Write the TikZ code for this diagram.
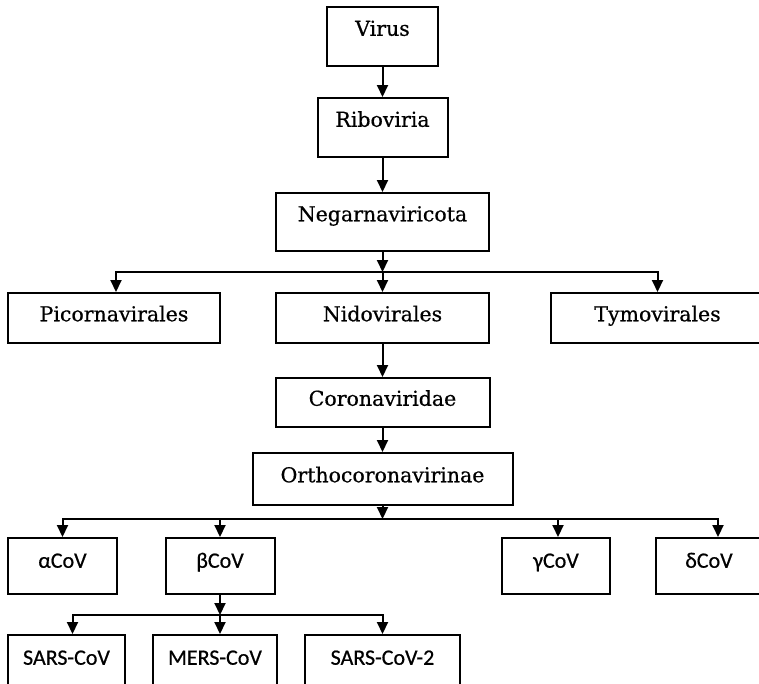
\documentclass[tikz,border=0pt]{standalone}
\usepackage{fontspec}
\usetikzlibrary{arrows.meta}
\newfontfamily\boxserif{DejaVu Serif}[FakeBold=0.6]
\newfontfamily\boxsans{Carlito}[FakeBold=0.6]
\tikzset{
  x=1pt, y=-1pt,
  bx/.style={draw=black, line width=2pt, inner sep=0pt, fill=white, text=black},
  serifbox/.style={bx, font=\boxserif\fontsize{20.5}{24}\selectfont},
  sansbox/.style={bx, font=\boxsans\fontsize{22}{25}\selectfont},
  up8/.style={text height=8.5pt, text depth=10pt},
  up4/.style={text height=16.5pt, text depth=10pt},
  upsans/.style={text height=13.5pt, text depth=10pt},
  upbot/.style={text height=9.5pt, text depth=10pt},
  arr/.style={line width=2pt, -{Triangle[width=11pt,length=12pt]}},
}
\begin{document}
\begin{tikzpicture}
\clip (0,0) rectangle (759,683);
\fill[white] (0,0) rectangle (759,683);
% top column
\node[serifbox, up8, minimum width=111pt, minimum height=59pt] (vir) at (382.5,36.5) {Virus};
\node[serifbox, up8, minimum width=130pt, minimum height=59pt] (rib) at (382.5,127.5) {Riboviria};
\node[serifbox, up8, minimum width=213pt, minimum height=58pt] (neg) at (382.5,222) {Negarnaviricota};
% orders
\node[serifbox, up4, minimum width=212pt, minimum height=50pt] (pic) at (114,318) {Picornavirales};
\node[serifbox, up4, minimum width=213pt, minimum height=50pt] (nid) at (382.5,318) {Nidovirales};
\node[serifbox, up4, minimum width=214pt, minimum height=50pt] (tym) at (657.5,318) {Tymovirales};
% family, subfamily
\node[serifbox, up4, minimum width=214pt, minimum height=49pt] (cor) at (382.5,402.5) {Coronaviridae};
\node[serifbox, up4, minimum width=260pt, minimum height=52pt] (ort) at (382.5,479) {Orthocoronavirinae};
% genera
\node[sansbox, upsans, minimum width=109pt, minimum height=56pt] (alp) at (62.5,566) {αCoV};
\node[sansbox, upsans, minimum width=109pt, minimum height=56pt] (bet) at (220,566) {βCoV};
\node[sansbox, upsans, minimum width=108pt, minimum height=56pt] (gam) at (556,566) {γCoV};
\node[sansbox, upsans, minimum width=106pt, minimum height=56pt] (del) at (709,566) {δCoV};
% species
\node[sansbox, upbot, minimum width=117pt, minimum height=60pt] (sa1) at (66.5,665) {SARS-CoV};
\node[sansbox, upbot, minimum width=124pt, minimum height=60pt] (mer) at (215,665) {MERS-CoV};
\node[sansbox, upbot, minimum width=155pt, minimum height=60pt] (sa2) at (382.5,665) {SARS-CoV-2};
% bus coordinates
\coordinate (bus1) at (382.5,272);
\coordinate (bus2) at (382.5,519);
\coordinate (bus3) at (220,615);
% connectors
\draw[arr] (vir.south) -- (rib.north);
\draw[arr] (rib.south) -- (neg.north);
\draw[arr] (neg.south) -- (bus1);
\draw[arr] (bus1) -| ([xshift=2pt]pic.north);
\draw[arr] (bus1) -- (nid.north);
\draw[arr] (bus1) -| (tym.north);
\draw[arr] (nid.south) -- (cor.north);
\draw[arr] (cor.south) -- (ort.north);
\draw[arr] (ort.south) -- (bus2);
\draw[arr] (bus2) -| (alp.north);
\draw[arr] (bus2) -| (bet.north);
\draw[arr] (bus2) -| ([xshift=2pt]gam.north);
\draw[arr] (bus2) -| ([xshift=9pt]del.north);
\draw[arr] (bet.south) -- (bus3);
\draw[arr] (bus3) -| ([xshift=6pt]sa1.north);
\draw[arr] (bus3) -| ([xshift=5pt]mer.north);
\draw[arr] (bus3) -| (sa2.north);
\end{tikzpicture}
\end{document}
